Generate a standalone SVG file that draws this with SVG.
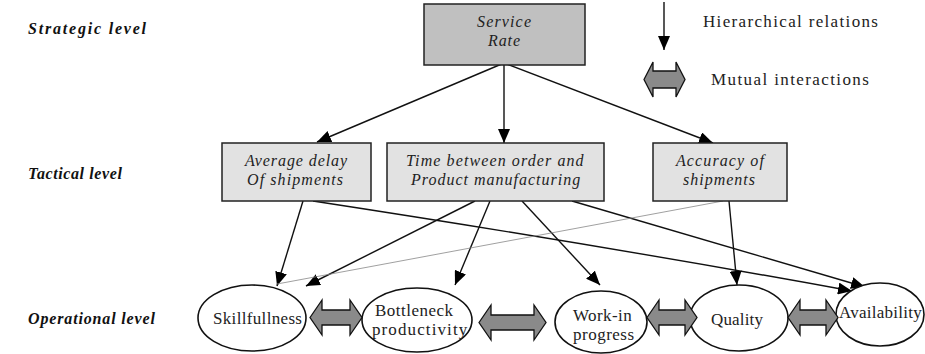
<svg xmlns="http://www.w3.org/2000/svg" width="925" height="354" viewBox="0 0 925 354">
<style>
.lvl{font-weight:bold;font-style:italic;font-size:16px;fill:#111}
.bx{font-style:italic;font-size:16px;fill:#222}
.el{font-size:17px;fill:#222}
.lg{font-size:17px;fill:#222}
.box1{fill:#c0c0c0;stroke:#222;stroke-width:1.5}
.box2{fill:#e2e2e2;stroke:#222;stroke-width:1.5}
.ell{fill:#fff;stroke:#111;stroke-width:1.6}
.dbl{fill:#8a8a8a;stroke:#111;stroke-width:1.3}
.c{stroke:#111;stroke-width:1.4;fill:none;marker-end:url(#ah)}
.thin{stroke:#888;stroke-width:0.8;fill:none}
</style>
<defs>
<marker id="ah" markerUnits="userSpaceOnUse" markerWidth="15" markerHeight="12" refX="14" refY="6" orient="auto">
<path d="M0,0 L14,6 L0,12 Z" fill="#000"/>
</marker>
</defs>

<g id="labels">
<text class="lvl" font-family="Liberation Serif" x="28" y="34" letter-spacing="1.8">Strategic level</text>
<text class="lvl" font-family="Liberation Serif" x="28" y="179" letter-spacing="0.6">Tactical level</text>
<text class="lvl" font-family="Liberation Serif" x="28" y="324" letter-spacing="0.85">Operational level</text>
</g>

<g id="legend">
<line x1="664" y1="2" x2="664" y2="50" class="c"/>
<text class="lg" font-family="Liberation Serif" x="703" y="27" letter-spacing="1.34">Hierarchical relations</text>
<polygon class="dbl" points="644,79.5 653,62 653,71 676,71 676,62 685,79.5 676,97 676,88 653,88 653,97"/>
<text class="lg" font-family="Liberation Serif" x="711" y="85" letter-spacing="1.4">Mutual interactions</text>
</g>

<g id="connectors">
<line class="c" x1="504" y1="63" x2="317" y2="142"/>
<line class="c" x1="504" y1="63" x2="504" y2="143"/>
<line class="c" x1="504" y1="63" x2="713" y2="143"/>
<line class="c" x1="303" y1="201" x2="277" y2="286"/>
<path class="c" d="M313,201 Q600,245 852,291"/>
<line class="c" x1="475" y1="201" x2="306" y2="286"/>
<line class="c" x1="490" y1="201" x2="455" y2="285"/>
<line class="c" x1="522" y1="201" x2="600" y2="285"/>
<line class="c" x1="572" y1="201" x2="865" y2="287"/>
<line class="thin" x1="723" y1="201" x2="277" y2="284"/>
<line class="c" x1="729" y1="201" x2="737" y2="285"/>
</g>

<g id="service-rate">
<rect class="box1" x="424" y="4" width="161" height="61"/>
<text class="bx" font-family="Liberation Serif" x="477" y="27" letter-spacing="1.15">Service</text>
<text class="bx" font-family="Liberation Serif" x="488" y="46" letter-spacing="0.9">Rate</text>
</g>

<g id="average-delay">
<rect class="box2" x="222" y="143" width="149" height="58"/>
<text class="bx" font-family="Liberation Serif" x="245" y="166" letter-spacing="0.92">Average delay</text>
<text class="bx" font-family="Liberation Serif" x="247" y="185" letter-spacing="1.09">Of shipments</text>
</g>

<g id="time-between">
<rect class="box2" x="387" y="143" width="217" height="58"/>
<text class="bx" font-family="Liberation Serif" x="406" y="166" letter-spacing="1.1">Time between order and</text>
<text class="bx" font-family="Liberation Serif" x="411" y="185" letter-spacing="1.0">Product manufacturing</text>
</g>

<g id="accuracy">
<rect class="box2" x="653" y="143" width="134" height="58"/>
<text class="bx" font-family="Liberation Serif" x="676" y="166" letter-spacing="1.1">Accuracy of</text>
<text class="bx" font-family="Liberation Serif" x="683" y="185" letter-spacing="1.0">shipments</text>
</g>

<g id="skillfullness">
<ellipse class="ell" cx="252" cy="318" rx="54" ry="33"/>
<text class="el" font-family="Liberation Serif" x="213" y="324" letter-spacing="0.33">Skillfullness</text>
</g>

<g id="bottleneck">
<ellipse class="ell" cx="417" cy="320" rx="55" ry="32"/>
<text class="el" font-family="Liberation Serif" x="375" y="316" letter-spacing="0.48">Bottleneck</text>
<text class="el" font-family="Liberation Serif" x="372" y="335" letter-spacing="1.1">productivity</text>
</g>

<g id="work-in-progress">
<ellipse class="ell" cx="601" cy="322" rx="46" ry="31"/>
<text class="el" font-family="Liberation Serif" x="573" y="321" letter-spacing="0.4">Work-in</text>
<text class="el" font-family="Liberation Serif" x="573" y="340" letter-spacing="0.5">progress</text>
</g>

<g id="quality">
<ellipse class="ell" cx="739" cy="318" rx="49" ry="33"/>
<text class="el" font-family="Liberation Serif" x="711" y="325" letter-spacing="0.15">Quality</text>
</g>

<g id="availability">
<ellipse class="ell" cx="880" cy="314.5" rx="44" ry="31.5"/>
<text class="el" font-family="Liberation Serif" x="839" y="318" letter-spacing="0.25">Availability</text>
</g>

<g id="interactions">
<polygon class="dbl" points="310,317.5 322,300 322,310 350,310 350,300 362,317.5 350,335 350,325 322,325 322,335"/>
<polygon class="dbl" points="479,322.5 491,305 491,315 534,315 534,305 546,322.5 534,340 534,330 491,330 491,340"/>
<polygon class="dbl" points="647,317.5 659,300 659,310 685,310 685,300 697,317.5 685,335 685,325 659,325 659,335"/>
<polygon class="dbl" points="788,317.5 800,300 800,310 826,310 826,300 838,317.5 826,335 826,325 800,325 800,335"/>
</g>
</svg>
